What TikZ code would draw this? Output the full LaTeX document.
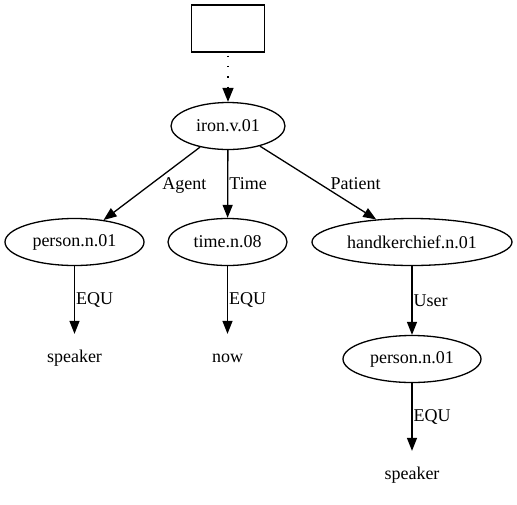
\documentclass[tikz,border=0pt]{standalone}
\usepackage{fontspec}
\setmainfont{Liberation Serif}
\usepackage{tikz}
\usetikzlibrary{shapes}
\usetikzlibrary{arrows.meta}
\usetikzlibrary{positioning}
\begin{document}
\begin{tikzpicture}[
        x=1pt, y=-1pt,
        every node/.style={ellipse, draw, inner sep=0pt, minimum height=47pt,
            font=\fontsize{18}{20}\selectfont},
        line width=1.3pt,
        -{Triangle[length=13pt,width=10pt]}
        ]
        \tikzstyle{word} = [draw=none, rectangle];
        \tikzstyle{role} = [draw=none, rectangle, minimum height=0pt, inner sep=1pt, anchor=west];
        \useasboundingbox (0,0) rectangle (517,504);

        \node[rectangle, minimum width=73pt] (top) at (228,28.5) {};
        \node[minimum width=114pt] (iron) at (228,126) {iron.v.01};
        \coordinate (iron-in) at (228,87);

        \node[minimum width=139pt] (p1) at (74.5,242) {person.n.01};
        \node[minimum width=119pt] (t1) at (227.5,242) {time.n.08};
        \node[minimum width=200pt] (h1) at (412,242) {handkerchief.n.01};

        \node[word] (p1-w) at (74.5,358) {speaker};
        \node[word] (t1-w) at (227.5,358) {now};
        \node[minimum width=138pt] (h1-p) at (412,359) {person.n.01};
        \node[word] (h1-p-w) at (412,475) {speaker};

        \draw[-, dash pattern=on 1.3pt off 9pt, dash phase=-3pt] (top) -- (iron-in);
        \draw[-{Triangle[length=14pt,width=11pt]}, shorten <=1pt] (iron-in) -- (iron);
        \draw (iron) -- node[role, xshift=9pt, yshift=-2pt] {Agent} (p1);
        \draw (iron) -- node[role] {Time} (t1);
        \draw (iron) -- node[role, xshift=11pt, yshift=-1pt] {Patient} (h1);
        \draw (p1) -- node[role] {EQU} (p1-w);
        \draw (t1) -- node[role] {EQU} (t1-w);
        \draw (h1) -- node[role] {User} (h1-p);
        \draw (h1-p) -- node[role] {EQU} (h1-p-w);
    \end{tikzpicture}
\end{document}
